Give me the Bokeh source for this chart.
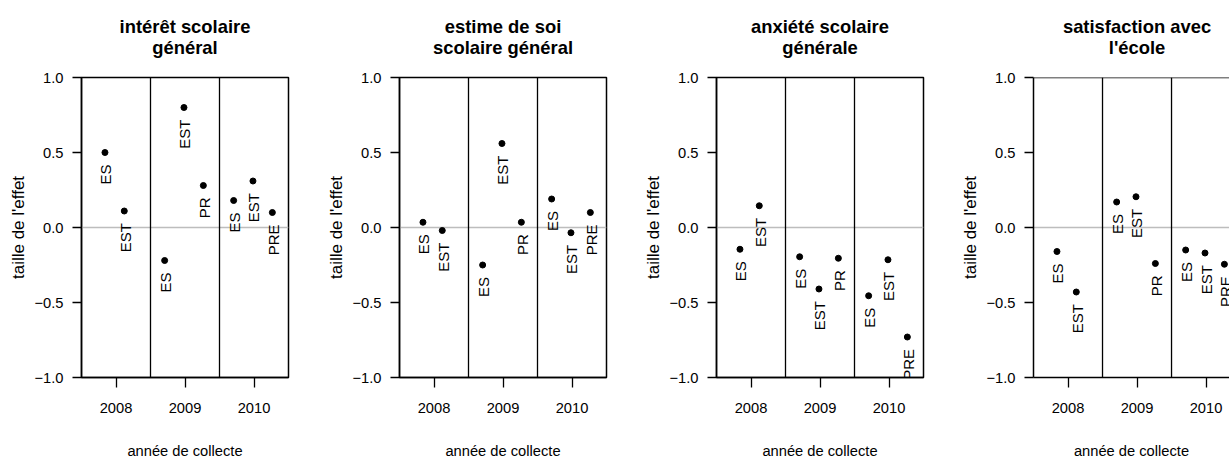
import math
from bokeh.plotting import figure
from bokeh.layouts import row, column
from bokeh.models import Span, FixedTicker, ColumnDataSource, Range1d
from bokeh.core.properties import value
from bokeh.embed import file_html
from bokeh.resources import INLINE

# ---------------- data ----------------
years = [2008, 2008, 2009, 2009, 2009, 2010, 2010, 2010]
groups = ["ES", "EST", "ES", "EST", "PR", "ES", "EST", "PRE"]

titles = [
    ["intérêt scolaire", "général"],
    ["estime de soi", "scolaire général"],
    ["anxiété scolaire", "générale"],
    ["satisfaction avec", "l'école"],
]
interet = [0.50, 0.11, -0.22, 0.80, 0.28, 0.18, 0.31, 0.10]
estime = [0.035, -0.02, -0.25, 0.56, 0.035, 0.19, -0.035, 0.10]
anxiete = [-0.145, 0.145, -0.195, -0.41, -0.205, -0.455, -0.215, -0.73]
satisfaction = [-0.16, -0.43, 0.17, 0.205, -0.24, -0.15, -0.17, -0.245]
series = [interet, estime, anxiete, satisfaction]

year_ticks = [2008, 2009, 2010]
y_ticks = [-1, -0.5, 0, 0.5, 1]
y_tick_labels = {-1: "\u22121.0", -0.5: "\u22120.5", 0: "0.0", 0.5: "0.5", 1: "1.0"}
x_label = "année de collecte"
y_label = "taille de l'effet"

# ------------- layout / style -------------
# horizontal dodge of the labelled points inside each year
dodge = [-0.16, 0.12, -0.295, -0.015, 0.266, -0.295, -0.015, 0.266]
FONT = "Liberation Sans"
TXT = "14.7px"
widths = [321, 317, 317, 274]
left_borders = [81, 78, 78, 78]
right_borders = [33, 32, 32, 0]
x_ends = [2010.5, 2010.5, 2010.5, 2010.34]
TITLE_H = 60          # height of the strip that holds the two title lines
MAIN_H = 461 - TITLE_H
TOP_PAD = 17          # frame top sits at 77 px on the page
FRAME_H = 302
title_line_px = [26, 47]  # vertical centres of the two title lines on the page


def make_title(i):
    t = figure(
        width=widths[i], height=TITLE_H,
        x_range=Range1d(2007.5, x_ends[i]), y_range=Range1d(0, TITLE_H),
        output_backend="svg", toolbar_location=None,
        x_axis_type=None, y_axis_type=None,
        min_border_left=left_borders[i], min_border_right=right_borders[i],
        min_border_top=0, min_border_bottom=0,
        background_fill_color="white", border_fill_color="white",
    )
    t.outline_line_color = None
    t.grid.visible = False
    src = ColumnDataSource(dict(
        x=[2009, 2009],
        y=[TITLE_H - title_line_px[0], TITLE_H - title_line_px[1]],
        text=titles[i],
    ))
    t.text(x="x", y="y", text="text", source=src, text_align="center",
           text_baseline="middle", text_font=value(FONT), text_font_size="18.4px",
           text_font_style="bold", text_color="black")
    return t


def make_panel(i):
    last = i == 3
    p = figure(
        width=widths[i], height=MAIN_H, title=None,
        x_range=Range1d(2007.5, x_ends[i]), y_range=Range1d(-1, 1),
        output_backend="svg", toolbar_location=None,
        min_border_left=left_borders[i], min_border_right=right_borders[i],
        min_border_top=TOP_PAD, min_border_bottom=MAIN_H - TOP_PAD - FRAME_H,
        background_fill_color="white", border_fill_color="white",
    )
    p.grid.visible = False

    if last:
        p.outline_line_color = None
        p.add_layout(Span(location=1, dimension="width", line_color="black", line_width=1.5))
    else:
        p.outline_line_color = "black"
        p.outline_line_width = 1.5
        p.outline_line_alpha = 1.0

    for ax in (p.xaxis[0], p.yaxis[0]):
        ax.axis_line_color = "black"
        ax.axis_line_width = 1.5
        ax.major_tick_line_color = "black"
        ax.major_tick_line_width = 1.3
        ax.major_tick_in = 0
        ax.major_tick_out = 9
        ax.minor_tick_in = 0
        ax.minor_tick_out = 0
        ax.major_label_text_font = FONT
        ax.major_label_text_font_size = TXT
        ax.major_label_text_color = "black"
        ax.axis_label_text_font = FONT
        ax.axis_label_text_font_size = TXT
        ax.axis_label_text_font_style = "normal"
        ax.axis_label_text_color = "black"

    p.xaxis.ticker = FixedTicker(ticks=year_ticks)
    p.xaxis.major_tick_out = 10
    p.xaxis.major_label_standoff = 15
    p.xaxis.axis_label = x_label
    p.xaxis.axis_label_standoff = 27

    p.yaxis.ticker = FixedTicker(ticks=y_ticks)
    p.yaxis.major_label_overrides = y_tick_labels
    p.yaxis.major_label_standoff = 9
    p.yaxis.axis_label = y_label
    p.yaxis.axis_label_text_font_size = "17px"
    p.yaxis.axis_label_standoff = 4

    p.add_layout(Span(location=0, dimension="width", line_color="#bdbdbd",
                      line_width=1.3, level="underlay"))
    for b in (2008.5, 2009.5):
        p.add_layout(Span(location=b, dimension="height", line_color="black",
                          line_width=1.3))

    src = ColumnDataSource(dict(
        x=[y + d for y, d in zip(years, dodge)],
        y=series[i],
        label=groups,
    ))
    p.scatter(x="x", y="y", source=src, size=6, color="black")
    p.text(x="x", y="y", text="label", source=src, angle=math.pi / 2,
           text_align="right", text_baseline="middle", x_offset=1, y_offset=12,
           text_font=value(FONT), text_font_size="15px", text_color="black")
    return p


layout = row(*[column(make_title(i), make_panel(i), spacing=0) for i in range(4)],
             spacing=0)
open("out.html", "w").write(file_html(layout, INLINE))
